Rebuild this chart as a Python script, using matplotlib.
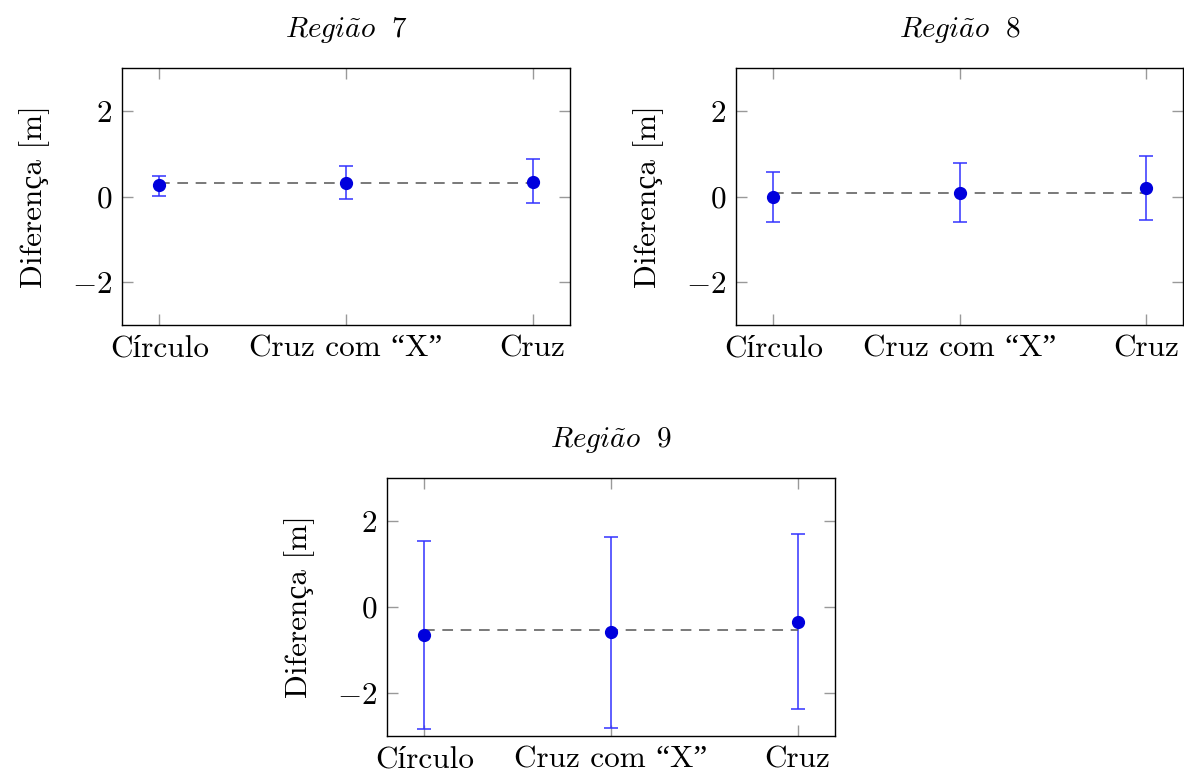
import numpy as np
import matplotlib
matplotlib.use("Agg")
from matplotlib import pyplot as plt

# dados
categorias = ["Círculo", "Cruz com “X”", "Cruz"]
regioes = ["Região 7", "Região 8", "Região 9"]

media_r7 = [0.26, 0.32, 0.35]
sup_r7 = [0.49, 0.71, 0.87]
inf_r7 = [0.02, -0.06, -0.16]

media_r8 = [0.00, 0.08, 0.20]
sup_r8 = [0.58, 0.78, 0.95]
inf_r8 = [-0.60, -0.60, -0.56]

media_r9 = [-0.66, -0.59, -0.34]
sup_r9 = [1.53, 1.63, 1.69]
inf_r9 = [-2.84, -2.81, -2.37]

plt.rcParams['font.family'] = ['cmr10', 'Liberation Serif', 'DejaVu Serif']
plt.rcParams['mathtext.fontset'] = 'cm'
plt.rcParams['axes.formatter.use_mathtext'] = True

fig = plt.figure(figsize=(11.84, 7.73), dpi=100)
W, H = 1184.0, 773.0

def painel(rect_px, titulo, media, sup, inf):
    x0, y0, x1, y1 = rect_px
    ax = fig.add_axes([x0 / W, 1 - y1 / H, (x1 - x0) / W, (y1 - y0) / H])
    x = np.arange(len(categorias))
    media = np.array(media)
    err = [media - np.array(inf), np.array(sup) - media]
    ax.errorbar(x, media, yerr=err, fmt='none', ecolor=(0.2, 0.2, 1.0),
                elinewidth=1.1, capsize=5, capthick=1.1)
    ax.plot(x, media, 'o', color='#0000dd', markersize=8.5, zorder=3)
    m = media.mean()
    ax.plot([x[0], x[-1]], [m, m], '--', color='#555555', lw=1.1,
            dashes=(7, 5), zorder=2)
    ax.set_xlim(-0.2, 2.2)
    ax.set_ylim(-3, 3)
    ax.set_xticks(x)
    ax.set_xticklabels(categorias)
    ax.set_yticks([-2, 0, 2])
    ax.tick_params(direction='in', length=8, width=1, color='#999999',
                   top=True, right=True, labelsize=22.5, pad=7)
    for s in ax.spines.values():
        s.set_linewidth(1)
    ax.set_ylabel("Diferença [m]", fontsize=22.5, labelpad=16)
    ax.set_title(r"$\mathit{Regi\tilde{a}o\ \ %s}$" % titulo.split()[-1],
                 fontsize=21, pad=22)
    return ax

painel((122, 68, 570, 325), regioes[0], media_r7, sup_r7, inf_r7)
painel((736, 68, 1183, 325), regioes[1], media_r8, sup_r8, inf_r8)
painel((387, 478, 835, 736), regioes[2], media_r9, sup_r9, inf_r9)

fig.savefig("out.png", dpi=100)
